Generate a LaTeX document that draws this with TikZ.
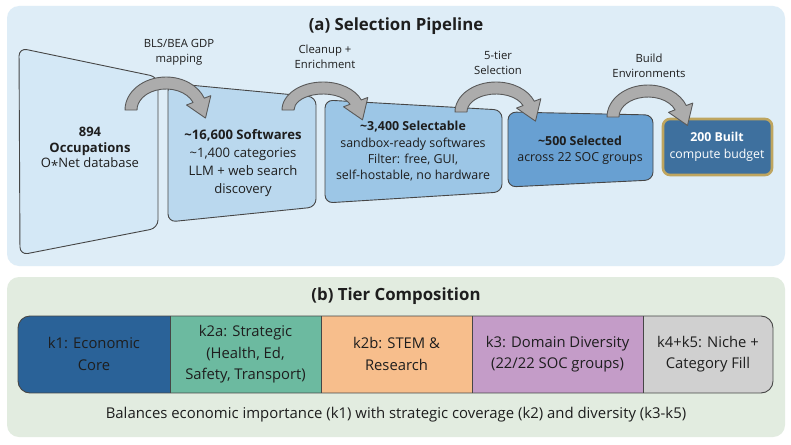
\documentclass[tikz,border=0pt]{standalone}
\usepackage{fontspec}
\setmainfont{Open Sans}
\usetikzlibrary{calc}
\definecolor{panelA}{RGB}{222,237,247}
\definecolor{panelB}{RGB}{226,236,224}
\definecolor{sone}{RGB}{212,232,246}
\definecolor{stwo}{RGB}{186,216,238}
\definecolor{sthree}{RGB}{156,198,230}
\definecolor{sfour}{RGB}{104,160,210}
\definecolor{sfive}{RGB}{62,112,158}
\definecolor{gold}{RGB}{190,165,95}
\definecolor{arrfill}{RGB}{172,172,172}
\definecolor{arrline}{RGB}{90,90,90}
\definecolor{edge}{RGB}{70,70,70}
\definecolor{txt}{RGB}{30,30,30}
\definecolor{kone}{RGB}{42,98,152}
\definecolor{ktwoa}{RGB}{108,186,160}
\definecolor{ktwob}{RGB}{247,190,140}
\definecolor{kthree}{RGB}{196,156,200}
\definecolor{kfour}{RGB}{208,208,208}
\tikzset{
  stagebox/.style={draw=edge, line width=0.9pt, rounded corners=8pt},
  arrowsty/.style={fill=arrfill, draw=arrline, line width=0.9pt, line join=round},
  boxtext/.style={align=center, text=txt, inner sep=0pt},
  lbl/.style={align=center, text=txt, inner sep=0pt, font=\fontsize{11.3}{15}\selectfont},
  tiertext/.style={align=center, text=txt, inner sep=0pt, font=\fontsize{14.8}{21.5}\selectfont},
}
\newcommand{\pipearrow}[5]{%
  \filldraw[arrowsty] ({#1-#3-6},{-#2})
    arc[start angle=180,end angle=#5,x radius={(#3+6)*1pt},y radius={(#4+6)*1pt}]
    -- ({#1+(#3+13)*cos(#5)},{-#2+(#4+13)*sin(#5)})
    -- ({#1+#3*cos(#5)+19*sin(#5)},{-#2+#4*sin(#5)-19*cos(#5)})
    -- ({#1+(#3-13)*cos(#5)},{-#2+(#4-13)*sin(#5)})
    -- ({#1+(#3-6)*cos(#5)},{-#2+(#4-6)*sin(#5)})
    arc[start angle=#5,end angle=180,x radius={(#3-6)*1pt},y radius={(#4-6)*1pt}]
    -- cycle;}
\begin{document}
\begin{tikzpicture}[x=1pt,y=1pt]
\useasboundingbox (0,0) rectangle (791,-444);
\fill[white] (0,0) rectangle (791,-444);
% panels
\fill[panelA, rounded corners=12pt] (7,-6) rectangle (785,-266);
\fill[panelB, rounded corners=12pt] (7,-277) rectangle (785,-437);
\node[boxtext, font=\fontsize{16.8}{18}\selectfont\bfseries] (titleA) at (396,-26) {(a) Selection Pipeline};
\node[boxtext, font=\fontsize{16.8}{18}\selectfont\bfseries] (titleB) at (396,-296) {(b) Tier Composition};
% stage shapes
\filldraw[stagebox, fill=sone] (19,-48) -- (158,-77) -- (158,-228) -- (20,-255) -- cycle;
\filldraw[stagebox, fill=stwo] (168,-83) -- (316,-97) -- (316,-207) -- (168,-222) -- cycle;
\filldraw[stagebox, fill=sthree] (325,-100) -- (502,-110) -- (502,-192) -- (325,-203) -- cycle;
\filldraw[stagebox, fill=sfour] (508,-112) -- (653,-115) -- (653,-180) -- (508,-187) -- cycle;
\filldraw[draw=gold, line width=2.6pt, fill=sfive, rounded corners=7pt] (663,-119) rectangle (772,-175);
% arrows
\pipearrow{166}{110}{35}{27}{21}
\pipearrow{323}{110}{35}{22}{21}
\pipearrow{496}{112}{35}{24}{21}
\pipearrow{648}{117}{35}{26}{21}
% arrow labels
\node[lbl] (l1) at (179,-52) {BLS/BEA GDP\\mapping};
\node[lbl] (l2) at (325,-57) {Cleanup +\\Enrichment};
\node[lbl] (l3) at (498,-63) {5-tier\\Selection};
\node[lbl] (l4) at (649,-66) {Build\\Environments};
% stage texts
\node[boxtext, font=\fontsize{13}{15.5}\selectfont] (t1) at (90,-149) {\textbf{894}\\\textbf{Occupations}\\O\raisebox{-0.35ex}{*}Net database};
\node[boxtext, font=\fontsize{13.1}{18}\selectfont] (t2) at (243,-163) {\textbf{\textasciitilde16,600 Softwares}\\\textasciitilde1,400 categories\\LLM + web search\\discovery};
\node[boxtext, font=\fontsize{12.4}{16.3}\selectfont] (t3) at (413,-151.5) {\textbf{\textasciitilde3,400 Selectable}\\sandbox-ready softwares\\Filter: free, GUI,\\self-hostable, no hardware};
\node[boxtext, font=\fontsize{12.4}{16}\selectfont] (t4) at (580,-150) {\textbf{\textasciitilde500 Selected}\\across 22 SOC groups};
\node[boxtext, text=white, font=\fontsize{12.3}{17}\selectfont] (t5) at (717,-146.5) {\textbf{200 Built}\\compute budget};
% tier bar
\begin{scope}
\clip[rounded corners=12pt] (18,-316) rectangle (773,-393);
\fill[kone] (18,-316) rectangle (170,-393);
\fill[ktwoa] (170,-316) rectangle (321,-393);
\fill[ktwob] (321,-316) rectangle (472,-393);
\fill[kthree] (472,-316) rectangle (643,-393);
\fill[kfour] (643,-316) rectangle (773,-393);
\end{scope}
\draw[edge, line width=0.9pt, rounded corners=12pt] (18,-316) rectangle (773,-393);
\draw[edge, line width=0.9pt] (170,-316) -- (170,-393) (321,-316) -- (321,-393) (472,-316) -- (472,-393) (643,-316) -- (643,-393);
\node[tiertext] (k1) at (94,-354) {k1: Economic\\Core};
\node[tiertext] (k2a) at (245.5,-354.5) {k2a: Strategic\\(Health, Ed,\\Safety, Transport)};
\node[tiertext] (k2b) at (396.5,-354) {k2b: STEM \&\\Research};
\node[tiertext] (k3) at (557.5,-354) {k3: Domain Diversity\\(22/22 SOC groups)};
\node[tiertext] (k4) at (708,-354) {k4+k5: Niche +\\Category Fill};
\node[boxtext, font=\fontsize{14.9}{16}\selectfont] (cap) at (396,-415) {Balances economic importance (k1) with strategic coverage (k2) and diversity (k3-k5)};
\end{tikzpicture}
\end{document}
